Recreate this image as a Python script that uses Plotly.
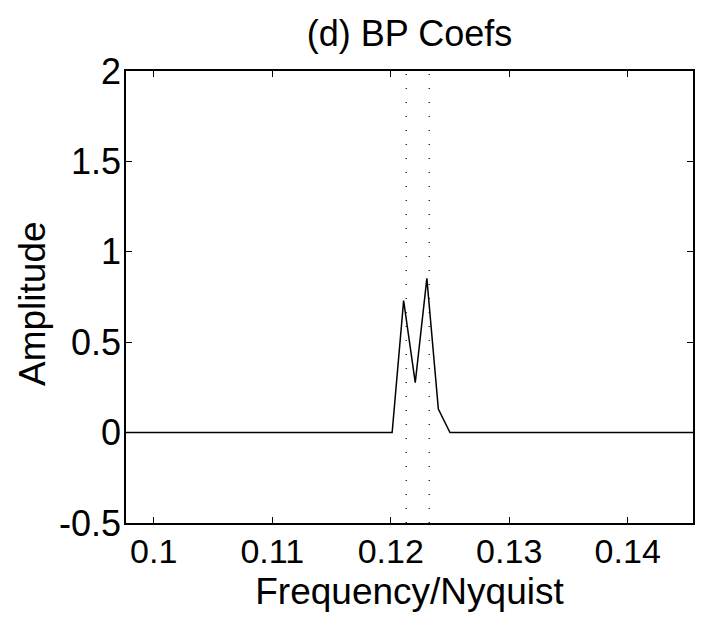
import plotly.graph_objects as go

# Frequency grid (Frequency/Nyquist), step 1/1024
freq = [0.09766, 0.09863, 0.09961, 0.10059, 0.10156, 0.10254, 0.10352, 0.10449, 0.10547, 0.10645,
        0.10742, 0.10840, 0.10938, 0.11035, 0.11133, 0.11230, 0.11328, 0.11426, 0.11523, 0.11621,
        0.11719, 0.11816, 0.11914, 0.12012, 0.12109, 0.12207, 0.12305, 0.12402, 0.12500, 0.12598,
        0.12695, 0.12793, 0.12891, 0.12988, 0.13086, 0.13184, 0.13281, 0.13379, 0.13477, 0.13574,
        0.13672, 0.13770, 0.13867, 0.13965, 0.14063, 0.14160, 0.14258, 0.14355, 0.14453, 0.14551]
amp = [0, 0, 0, 0, 0, 0, 0, 0, 0, 0,
       0, 0, 0, 0, 0, 0, 0, -0.002, -0.003, -0.003,
       -0.003, -0.003, -0.002, 0.0, 0.73, 0.276, 0.853, 0.13, 0.0, 0,
       0, 0, -0.002, -0.003, -0.003, -0.002, 0, 0, 0, 0,
       0, 0, 0, 0, 0, 0, 0, 0, 0, 0]
band_edges = [0.12131, 0.12325]

x_ticks = [0.10, 0.11, 0.12, 0.13, 0.14]
x_ticklabels = ["0.1", "0.11", "0.12", "0.13", "0.14"]
y_ticks = [-0.5, 0, 0.5, 1, 1.5, 2]
y_ticklabels = ["-0.5", "0", "0.5", "1", "1.5", "2"]

FONT = "Liberation Sans, Arial, sans-serif"
XTICK_SIZE = 34
YTICK_SIZE = 36
LABEL_SIZE = 37
TITLE_SIZE = 36

fig = go.Figure()
fig.add_trace(go.Scatter(x=freq, y=amp, mode="lines",
                         line=dict(color="black", width=1.5), showlegend=False))
for xe in band_edges:
    fig.add_shape(type="line", x0=xe, x1=xe, y0=0, y1=1, xref="x", yref="paper",
                  line=dict(color="black", width=1.2, dash="1px,13px"))

axis_common = dict(showgrid=False, zeroline=False, showline=True, linecolor="black",
                   linewidth=1.5, mirror="ticks", ticks="inside", ticklen=6,
                   tickcolor="black", tickwidth=1, automargin=False)

fig.update_xaxes(range=[0.09766, 0.14551], tickvals=x_ticks, ticktext=x_ticklabels,
                 ticklabelstandoff=-3,
                 tickfont=dict(size=XTICK_SIZE, color="black", family=FONT),
                 title=dict(text="Frequency/Nyquist", font=dict(size=LABEL_SIZE, color="black", family=FONT), standoff=10),
                 **axis_common)
fig.update_yaxes(range=[-0.5, 2], tickvals=y_ticks, ticktext=y_ticklabels,
                 ticklabelstandoff=-4,
                 tickfont=dict(size=YTICK_SIZE, color="black", family=FONT),
                 **axis_common)

# y-axis title placed as a rotated annotation
fig.add_annotation(text="Amplitude", xref="paper", yref="paper",
                   x=(32 - 126) / 567, y=(523 - 304) / 452,
                   xanchor="center", yanchor="middle", textangle=-90, showarrow=False,
                   font=dict(size=LABEL_SIZE, color="black", family=FONT))

fig.update_layout(
    width=708, height=629,
    margin=dict(l=126, r=15, t=71, b=106),
    paper_bgcolor="white", plot_bgcolor="white",
    title=dict(text="(d) BP Coefs", x=0.5, xref="paper", xanchor="center",
               y=1 - 33 / 629, yref="container", yanchor="middle",
               font=dict(size=TITLE_SIZE, color="black", family=FONT)),
    font=dict(family=FONT, color="black"),
)

fig.write_html("out.html")
